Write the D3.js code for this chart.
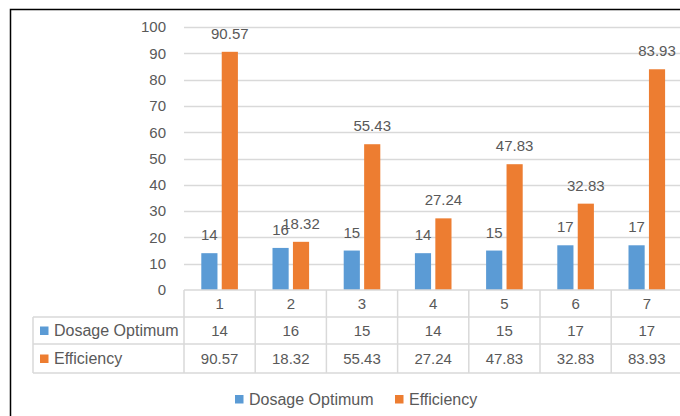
<!DOCTYPE html>
<html>
<head>
<meta charset="utf-8">
<script src="https://cdn.jsdelivr.net/npm/d3@7"></script>
<style>
  html, body { margin: 0; padding: 0; background: #fff; }
  svg { display: block; }
  text { font-family: "Liberation Sans", Arial, sans-serif; fill: #595959; }
</style>
</head>
<body>
<svg id="chart" width="680" height="416"></svg>
<script>
// Chart data
const categories = ["1", "2", "3", "4", "5", "6", "7"];
const dosageOptimum = [14, 16, 15, 14, 15, 17, 17];
const efficiency = [90.57, 18.32, 55.43, 27.24, 47.83, 32.83, 83.93];
const yTicks = [0, 10, 20, 30, 40, 50, 60, 70, 80, 90, 100];

const series = [
  { name: "Dosage Optimum", values: dosageOptimum, color: "#5b9bd5" },
  { name: "Efficiency", values: efficiency, color: "#ed7d31" }
];

const svg = d3.select("#chart");
const fontSize = 15;      // numbers
const nameSize = 16;      // series names
const gridColor = "#d9d9d9";

// Plot geometry
const plotLeft = 184, plotRight = 682.4, plotTop = 27, plotBottom = 290;
const x = d3.scaleBand().domain(categories).range([plotLeft, plotRight]).padding(0);
const y = d3.scaleLinear().domain([0, 100]).range([plotBottom, plotTop]);
const step = x.bandwidth();
const barW = step * 0.227;
const barGap = step * 0.06;
const groupW = barW * 2 + barGap;

// Outer frame
svg.append("rect")
  .attr("x", 10.5).attr("y", 9.5)
  .attr("width", 700).attr("height", 440)
  .attr("fill", "none").attr("stroke", "#000").attr("stroke-width", 1.5);

// Gridlines
svg.append("g").selectAll("line")
  .data(yTicks.filter(t => t > 0))
  .join("line")
  .attr("x1", plotLeft).attr("x2", 680)
  .attr("y1", d => Math.round(y(d)) + 0.5).attr("y2", d => Math.round(y(d)) + 0.5)
  .attr("stroke", gridColor).attr("stroke-width", 1.5);

// Y axis labels
const yAxis = d3.axisLeft(y).tickValues(yTicks).tickSize(0).tickPadding(0);
const yG = svg.append("g").attr("transform", `translate(166,0)`).call(yAxis);
yG.select(".domain").remove();
yG.selectAll("text")
  .style("font-family", '"Liberation Sans", Arial, sans-serif')
  .style("font-size", fontSize + "px")
  .attr("fill", "#595959");

// Bars
series.forEach((s, si) => {
  svg.append("g").selectAll("rect")
    .data(s.values)
    .join("rect")
    .attr("x", (d, i) => x(categories[i]) + (step - groupW) / 2 + si * (barW + barGap))
    .attr("y", d => y(d))
    .attr("width", barW)
    .attr("height", d => y(0) - y(d))
    .attr("fill", s.color);

  // Value labels above bars
  svg.append("g").selectAll("text")
    .data(s.values)
    .join("text")
    .attr("x", (d, i) => x(categories[i]) + (step - groupW) / 2 + si * (barW + barGap) + barW / 2)
    .attr("y", d => y(d) - 13)
    .attr("text-anchor", "middle")
    .style("font-size", fontSize + "px")
    .text(d => d);
});

// Data table
const tableLeft = 33;
const rowY = [290, 317, 344, 373];
const tbl = svg.append("g").attr("stroke", gridColor).attr("stroke-width", 1.5);
// horizontal rules
tbl.append("line").attr("x1", plotLeft).attr("x2", 680).attr("y1", rowY[0]).attr("y2", rowY[0]);
rowY.slice(1).forEach(ry => {
  tbl.append("line").attr("x1", tableLeft).attr("x2", 680).attr("y1", ry).attr("y2", ry);
});
// vertical rules
tbl.append("line").attr("x1", tableLeft).attr("x2", tableLeft).attr("y1", rowY[1]).attr("y2", rowY[3]);
categories.forEach(c => {
  tbl.append("line").attr("x1", x(c)).attr("x2", x(c)).attr("y1", rowY[0]).attr("y2", rowY[3]);
});

// Category header row
svg.append("g").selectAll("text")
  .data(categories)
  .join("text")
  .attr("x", d => x(d) + step / 2)
  .attr("y", 309)
  .attr("text-anchor", "middle")
  .style("font-size", fontSize + "px")
  .text(d => d);

// Series rows
series.forEach((s, si) => {
  const base = [336, 364][si];
  svg.append("rect")
    .attr("x", 40).attr("y", base - 9.5)
    .attr("width", 8.5).attr("height", 8.5)
    .attr("fill", s.color);
  svg.append("text")
    .attr("x", 54).attr("y", base)
    .style("font-size", nameSize + "px")
    .text(s.name);
  svg.append("g").selectAll("text")
    .data(s.values)
    .join("text")
    .attr("x", (d, i) => x(categories[i]) + step / 2)
    .attr("y", base)
    .attr("text-anchor", "middle")
    .style("font-size", fontSize + "px")
    .text(d => d);
});

// Legend
const legendPos = [{ sx: 235, tx: 249 }, { sx: 395, tx: 409 }];
series.forEach((s, si) => {
  svg.append("rect")
    .attr("x", legendPos[si].sx).attr("y", 395)
    .attr("width", 8.5).attr("height", 8.5)
    .attr("fill", s.color);
  svg.append("text")
    .attr("x", legendPos[si].tx).attr("y", 405)
    .style("font-size", nameSize + "px")
    .text(s.name);
});
</script>
</body>
</html>
